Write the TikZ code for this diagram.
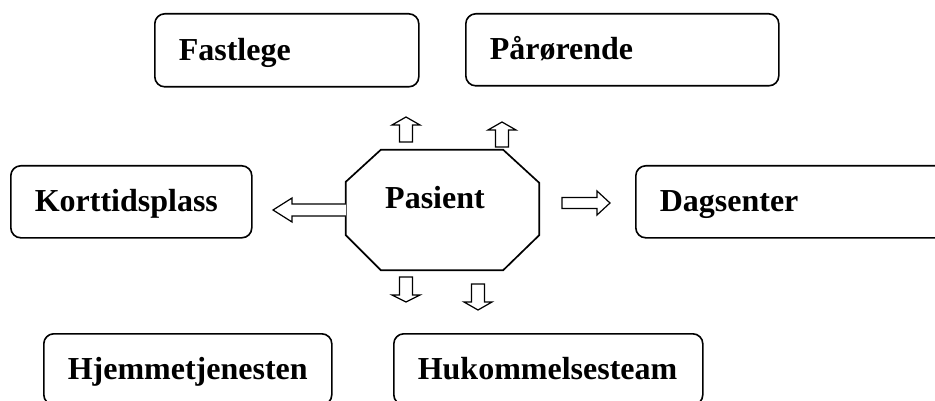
\documentclass[tikz,border=0pt]{standalone}
\usepackage{fontspec}
\setmainfont{Liberation Serif}
\usetikzlibrary{calc}
\begin{document}
\begin{tikzpicture}[x=1pt,y=-1pt,
  lbl/.style={font=\fontsize{32}{37}\selectfont\bfseries},
  box/.style={lbl,draw=black,line width=1.6pt,rounded corners=10pt,anchor=north west,
    inner xsep=24pt,inner ysep=0pt,align=left,text height=25pt,text depth=5pt},
  octo/.style={draw=black,line width=1.7pt,line join=miter},
  barr/.style={draw=black,line width=1.2pt,fill=white,line join=miter}]
\useasboundingbox (0,0) rectangle (935,401);
\clip (0,0) rectangle (935,401);
% boxes
\node[box,text width=216pt,minimum height=73pt] (fast) at (154,13) {Fastlege};
\node[box,text width=265pt,minimum height=72pt] (paar) at (465,13) {Pårørende};
\node[box,text width=193pt,minimum height=72pt] (kort) at (10,165) {Korttidsplass};
\node[box,text width=277pt,minimum height=72pt] (dag) at (635,165) {Dagsenter};
\node[box,text width=240pt,minimum height=71pt] (hjem) at (43,333) {Hjemmetjenesten};
\node[box,text width=261pt,minimum height=71pt] (huk) at (393,333) {Hukommelsesteam};
% central octagon
\node[draw=none,minimum width=193pt,minimum height=120pt,inner sep=0pt] (pas) at (442.5,210) {};
\draw[octo] ($(pas.north west)+(35,0)$) -- ($(pas.north east)+(-36,0)$)
  -- ($(pas.north east)+(0,33)$) -- ($(pas.south east)+(0,-35)$)
  -- ($(pas.south east)+(-36,0)$) -- ($(pas.south west)+(35,0)$)
  -- ($(pas.south west)+(0,-35)$) -- ($(pas.north west)+(0,32)$) -- cycle;
\node[lbl,anchor=base west,inner sep=0pt] (pastext) at (385,208) {Pasient};
% block arrows
% up arrows
\draw[barr] (399.5,142) -- (399.5,125) -- (392,125) -- (406,117) -- (420,125) -- (412.5,125) -- (412.5,142) -- cycle;
\draw[barr] (495.5,147) -- (495.5,130) -- (488,130) -- (502,122) -- (516,130) -- (508.5,130) -- (508.5,147) -- cycle;
% down arrows
\draw[barr] (399.5,277) -- (399.5,295) -- (392,295) -- (406,302) -- (420,295) -- (412.5,295) -- (412.5,277) -- cycle;
\draw[barr] (471.5,284) -- (471.5,302) -- (464,302) -- (478,310) -- (492,302) -- (484.5,302) -- (484.5,284) -- cycle;
% left arrow
\draw[barr] (pas.west |- 0,204) -- (292,204) -- (292,198) -- (273,210) -- (292,222) -- (292,216) -- (pas.west |- 0,216);
% right arrow
\draw[barr] (562,197.5) -- (597,197.5) -- (597,191) -- (610,203) -- (597,215) -- (597,208.5) -- (562,208.5) -- cycle;
\end{tikzpicture}
\end{document}
